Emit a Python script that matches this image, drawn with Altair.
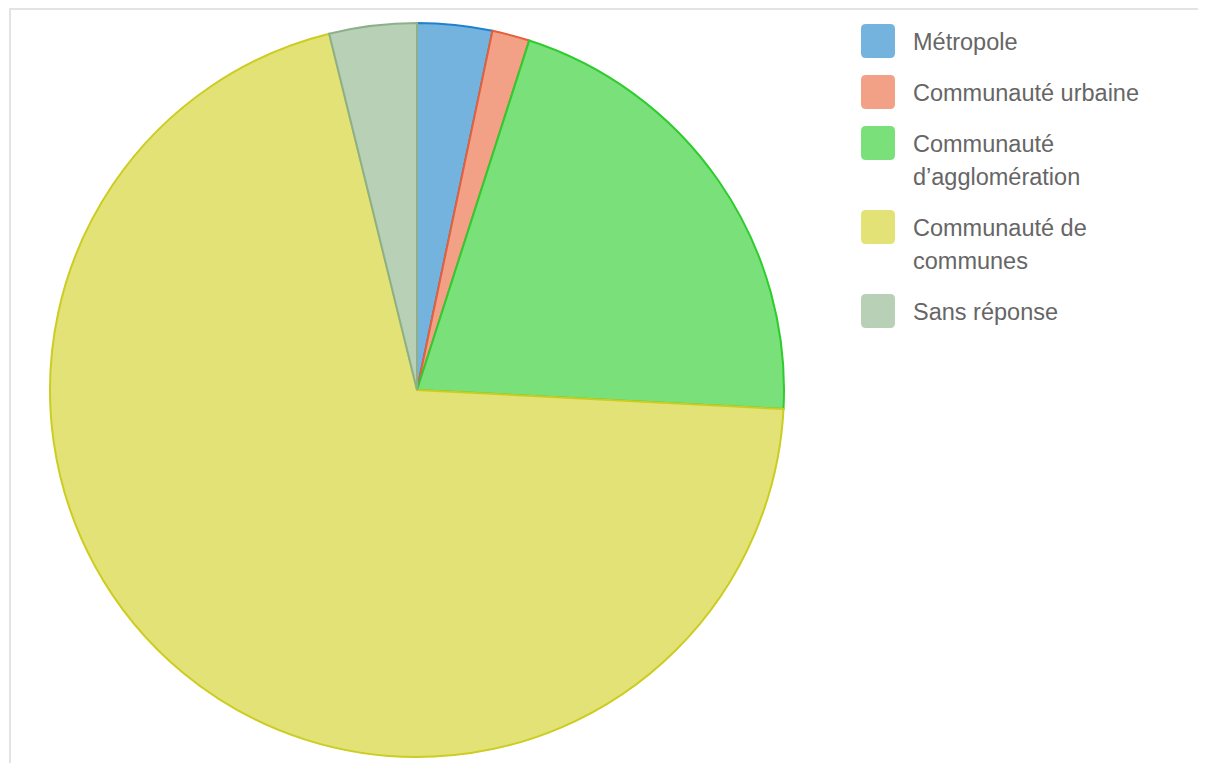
import altair as alt
import pandas as pd

categories = ["Métropole", "Communauté urbaine", "Communauté d’agglomération",
              "Communauté de communes", "Sans réponse"]
counts = [6, 3, 38, 128, 7]
legend_lines = [["Métropole"], ["Communauté urbaine"], ["Communauté", "d’agglomération"],
                ["Communauté de", "communes"], ["Sans réponse"]]
fills = ["#74b3de", "#f2a186", "#7ae07a", "#e2e277", "#b8d1b6"]
strokes = ["#1f80d0", "#e5603a", "#2ecc2e", "#cccc22", "#8db08a"]

df = pd.DataFrame({"cat": categories, "n": counts, "ord": list(range(len(categories)))})

# legend layout (manual, to reproduce the wrapped labels)
LINE_H = 33
ROW_GAP = 51
sym_rows, txt_rows = [], []
y = 33
for cat, lines in zip(categories, legend_lines):
    sym_rows.append({"cat": cat, "py": y})
    for i, ln in enumerate(lines):
        txt_rows.append({"cat": cat, "line": ln, "py": y + i * LINE_H})
    y += (len(lines) - 1) * LINE_H + ROW_GAP
sym_df = pd.DataFrame(sym_rows)
txt_df = pd.DataFrame(txt_rows)

rounded = ("M-0.72,-1 L0.72,-1 Q1,-1 1,-0.72 L1,0.72 Q1,1 0.72,1 L-0.72,1 "
           "Q-1,1 -1,0.72 L-1,-0.72 Q-1,-1 -0.72,-1 Z")

color_scale = alt.Scale(domain=categories, range=fills)

pie = alt.Chart(df).mark_arc(radius=367, strokeWidth=2).encode(
    theta=alt.Theta("n:Q", stack=True),
    order=alt.Order("ord:Q"),
    x=alt.value(409),
    y=alt.value(382),
    color=alt.Color("cat:N", sort=categories, scale=color_scale, legend=None),
    stroke=alt.Stroke("cat:N", sort=categories,
                      scale=alt.Scale(domain=categories, range=strokes), legend=None),
)

symbols = alt.Chart(sym_df).mark_point(shape=rounded, filled=True, size=1156, opacity=1).encode(
    x=alt.value(870),
    y=alt.Y("py:Q", scale=None, axis=None),
    color=alt.Color("cat:N", sort=categories, scale=color_scale, legend=None),
)

labels = alt.Chart(txt_df).mark_text(
    align="left", baseline="middle", dy=1.5, font="Liberation Sans", fontSize=23.5, color="#666666"
).encode(
    x=alt.value(905),
    y=alt.Y("py:Q", scale=None, axis=None),
    text="line:N",
)

hline = alt.Chart(df).mark_rule(color="#e3e3e3", strokeWidth=2).encode(
    x=alt.value(1), x2=alt.value(1190), y=alt.value(1)
)
vline = alt.Chart(df).mark_rule(color="#e3e3e3", strokeWidth=2).encode(
    x=alt.value(2), y=alt.value(1), y2=alt.value(755)
)

chart = alt.layer(hline, vline, pie, symbols, labels).properties(
    width=1190, height=755, padding=0
).configure_view(stroke=None)

chart.save("out.html", embed_options={"renderer": "svg", "actions": False})
